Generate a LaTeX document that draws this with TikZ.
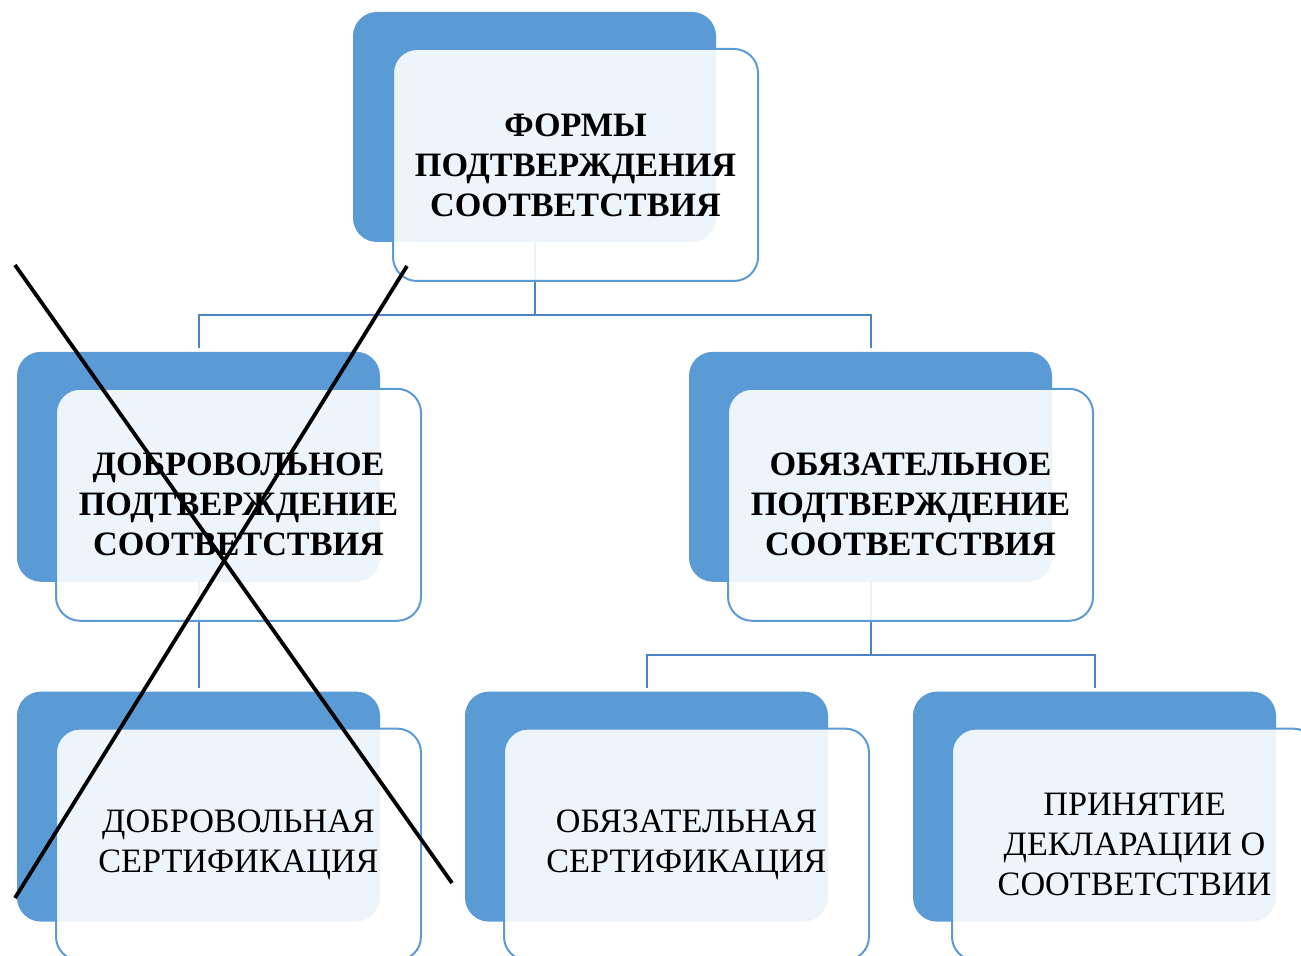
\documentclass[tikz,border=0pt]{standalone}
\usepackage{xcolor}
\usepackage{fontspec}
\setmainfont{Liberation Serif}
\usepackage{tikz}
\usetikzlibrary{positioning}

\definecolor{boxblue}{HTML}{5B9BD5}
\definecolor{linkblue}{HTML}{4A84C2}

\begin{document}
\begin{tikzpicture}[node distance = 54.5pt]
            \tikzstyle{back} = [rectangle, rounded corners = 12pt, fill = boxblue, minimum width = 181.5pt, minimum height = 115pt, inner sep = 0pt];
            \tikzstyle{panel} = [rectangle, rounded corners = 12pt, draw = boxblue, line width = 1pt, fill = white, fill opacity = 0.9, text opacity = 1, minimum width = 182.5pt, minimum height = 116pt, inner sep = 0pt, align = center, font = \fontsize{17.1pt}{20pt}\selectfont, xshift = 20pt, yshift = -19pt];
            \tikzstyle{link} = [draw = linkblue, line width = 1pt];
            \tikzstyle{strike} = [draw = black, line width = 1.9pt];
            \useasboundingbox (0pt, 0pt) rectangle (650.5pt, -478pt);

            \node [back] (B0) at (267.25pt, -63.5pt) {};

            \node [back, below = of B0, xshift = -168pt] (B1) {};
            \node [back, below = of B0, xshift = 168pt] (B2) {};

            \node [back, below = of B1] (B3) {};
            \node [back, below = of B2, xshift = -112pt] (B4) {};
            \node [back, below = of B2, xshift = 112pt] (B5) {};

            \draw [link] (B0.south) |- ([yshift = 18pt]B1.north) -- ([yshift = 1.5pt]B1.north);
            \draw [link] (B0.south) |- ([yshift = 18pt]B2.north) -- ([yshift = 1.5pt]B2.north);
            \draw [link] (B1.south) -- ([yshift = 1.5pt]B3.north);
            \draw [link] (B2.south) |- ([yshift = 18pt]B4.north) -- ([yshift = 1.5pt]B4.north);
            \draw [link] (B2.south) |- ([yshift = 18pt]B5.north) -- ([yshift = 1.5pt]B5.north);

            \node [panel, xshift = 0.5pt] (P0) at (B0) {\textbf{ФОРМЫ}\\\textbf{ПОДТВЕРЖДЕНИЯ}\\\textbf{СООТВЕТСТВИЯ}};
            \node [panel] (P1) at (B1) {\textbf{ДОБРОВОЛЬНОЕ}\\\textbf{ПОДТВЕРЖДЕНИЕ}\\\textbf{СООТВЕТСТВИЯ}};
            \node [panel] (P2) at (B2) {\textbf{ОБЯЗАТЕЛЬНОЕ}\\\textbf{ПОДТВЕРЖДЕНИЕ}\\\textbf{СООТВЕТСТВИЯ}};
            \node [panel] (P3) at (B3) {ДОБРОВОЛЬНАЯ\\СЕРТИФИКАЦИЯ};
            \node [panel] (P4) at (B4) {ОБЯЗАТЕЛЬНАЯ\\СЕРТИФИКАЦИЯ};
            \node [panel] (P5) at (B5) {ПРИНЯТИЕ\\ДЕКЛАРАЦИИ О\\СООТВЕТСТВИИ};

            % cross over the voluntary branch
            \coordinate (X1) at (7.5pt, -132.5pt);
            \coordinate (X2) at (226pt, -441.5pt);
            \coordinate (X3) at (203.5pt, -133pt);
            \coordinate (X4) at (7.5pt, -449pt);
            \draw [strike] (X1) -- (X2);
            \draw [strike] (X3) -- (X4);
        \end{tikzpicture}
\end{document}
